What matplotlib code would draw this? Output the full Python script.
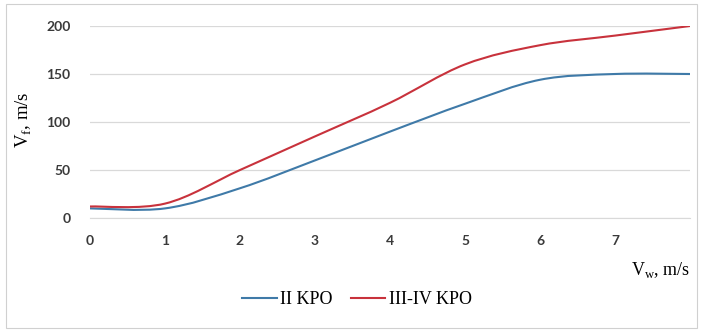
import numpy as np
import matplotlib
matplotlib.use('Agg')
import matplotlib.pyplot as plt
from matplotlib.path import Path
from matplotlib.patches import PathPatch, Rectangle
from matplotlib.lines import Line2D

# wind speed, m/s
vw = [0, 1, 2, 3, 4, 5, 6, 7, 8]
# fire spread speed for the two classes
kpo_2 = [10, 10, 31, 60, 90, 119, 144, 150, 150]
kpo_3_4 = [12, 15, 50, 85, 120, 160, 180, 190, 200]

x_ticks = [0, 1, 2, 3, 4, 5, 6, 7]
y_ticks = [0, 50, 100, 150, 200]

blue = '#3f7aa8'
red = '#c8323c'


def smooth_path(x, y):
    ##Bezier path through the points (Catmull-Rom tangents), like a smoothed line
    x = np.asarray(x, float)
    y = np.asarray(y, float)
    verts = [(x[0], y[0])]
    codes = [Path.MOVETO]
    n = len(x)
    for i in range(n - 1):
        p0 = (x[max(i - 1, 0)], y[max(i - 1, 0)])
        p1 = (x[i], y[i])
        p2 = (x[i + 1], y[i + 1])
        p3 = (x[min(i + 2, n - 1)], y[min(i + 2, n - 1)])
        c1 = (p1[0] + (p2[0] - p0[0]) / 6, p1[1] + (p2[1] - p0[1]) / 6)
        c2 = (p2[0] - (p3[0] - p1[0]) / 6, p2[1] - (p3[1] - p1[1]) / 6)
        verts += [c1, c2, p2]
        codes += [Path.CURVE4] * 3
    return Path(verts, codes)


fig = plt.figure(figsize=(7.02, 3.32), dpi=100)
fig.patches.append(Rectangle((0.008, 0.012), 0.985, 0.975, transform=fig.transFigure,
                             fill=False, edgecolor='#d0d0d0', linewidth=0.8))

ax = fig.add_axes([90 / 702, 114 / 332, 600 / 702, 192 / 332])
ax.set_xlim(0, 8)
ax.set_ylim(0, 200)

for vals, col in ((kpo_2, blue), (kpo_3_4, red)):
    ax.add_patch(PathPatch(smooth_path(vw, vals), fill=False, edgecolor=col,
                           linewidth=1.5, capstyle='round'))

ax.set_xticks(x_ticks)
ax.set_yticks(y_ticks)
ax.grid(axis='y', color='#d9d9d9', linewidth=0.9)
ax.set_axisbelow(True)
for s in ('top', 'right', 'left'):
    ax.spines[s].set_visible(False)
ax.spines['bottom'].set_color('#d9d9d9')
ax.tick_params(length=0, labelsize=10, labelcolor='#3a3a3a', pad=12)
ax.tick_params(axis='y', pad=14)
for lab in ax.get_xticklabels() + ax.get_yticklabels():
    lab.set_fontweight('bold')
    lab.set_family('Lato')

fig.text(24 / 702, 1 - 120 / 332, r'V$_\mathregular{f}$, m/s', rotation=90, ha='center',
         va='center', fontsize=13.5, family='Liberation Serif')
fig.text(690 / 702, 1 - 270 / 332, r'V$_\mathregular{w}$, m/s', ha='right', va='center',
         fontsize=13, family='Liberation Serif')

handles = [Line2D([], [], color=blue, linewidth=1.5),
           Line2D([], [], color=red, linewidth=1.5)]
fig.legend(handles, ['II KPO', 'III-IV KPO'], loc='center', bbox_to_anchor=(357 / 702, 1 - 300 / 332),
           ncol=2, frameon=False, handlelength=1.9, handletextpad=0.2, columnspacing=1.0,
           prop={'family': 'Liberation Serif', 'size': 13})

fig.savefig('out.png', dpi=100)
